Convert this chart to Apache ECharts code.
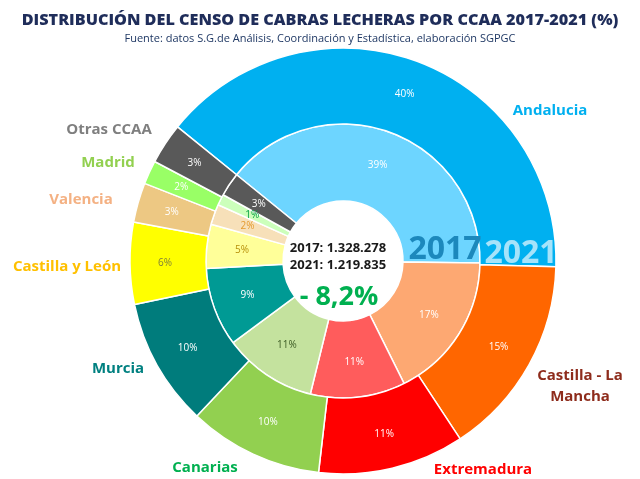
<!DOCTYPE html>
<html>
<head>
<meta charset="utf-8">
<script src="https://cdn.jsdelivr.net/npm/echarts@6/dist/echarts.min.js"></script>
<style>
html,body{margin:0;padding:0;background:#fff;}
#main{width:640px;height:479px;}
</style>
</head>
<body>
<div id="main"></div>
<script>
// ---- data ----
const categories = ['Andalucia','Castilla - La Mancha','Extremadura','Canarias','Murcia','Castilla y León','Valencia','Madrid','Otras CCAA'];
const values2017 = [39.4, 17.4, 11.2, 11.0, 9.3, 5.2, 2.4, 1.3, 2.8];
const values2021 = [39.6, 15.3, 11.1, 10.2, 9.7, 6.2, 3.0, 1.8, 3.1];
const total2017 = '1.328.278';
const total2021 = '1.219.835';
const change = '- 8,2%';

// ---- styles ----
const colors2021 = ['#00B0F0','#FF6600','#FF0000','#92D050','#007C7C','#FFFF00','#EDC883','#99FF66','#595959'];
const colors2017 = ['#6DD5FF','#FDA872','#FF5C5C','#C4E29E','#009A94','#FFFF99','#F7E0B9','#CCFFBB','#595959'];
const lbl2021 = ['#fff','#fff','#fff','#fff','#fff','#7F7F3A','#fff','#fff','#fff'];
const lbl2017 = ['#fff','#fff','#fff','#3B5A24','#fff','#B8900A','#E59A2E','#00A040','#fff'];
const nameColors = ['#00B0F0','#8E2C1C','#FF0000','#00B050','#008080','#FFC000','#F4B183','#92D050','#7F7F7F'];
const namePos = [[550,111],[580,386],[483,470],[205,468],[118,369],[67,267],[81,200],[108,163],[109,130]];
const FONT = '"Open Sans", sans-serif';
const CX = 343, CY = 261;

function ringData(vals, cols, lcols) {
  return vals.map((v, i) => ({
    name: categories[i], value: v,
    itemStyle: { color: cols[i] },
    label: { color: lcols[i] }
  }));
}

const chart = echarts.init(document.getElementById('main'), null, {renderer: 'canvas'});
const graphics = [];
categories.forEach((c, i) => {
  graphics.push({
    type: 'text', x: namePos[i][0], y: namePos[i][1],
    style: {
      text: c === 'Castilla - La Mancha' ? 'Castilla - La\nMancha' : c,
      fill: nameColors[i], font: 'bold 15px ' + FONT,
      align: 'center', verticalAlign: 'middle', lineHeight: 21
    }
  });
});
graphics.push(
  {type:'text', x: 338, y: 248, style:{text:'2017: ' + total2017, fill:'#1a1a1a', font:'bold 13px ' + FONT, align:'center', verticalAlign:'middle'}},
  {type:'text', x: 338, y: 265, style:{text:'2021: ' + total2021, fill:'#1a1a1a', font:'bold 13px ' + FONT, align:'center', verticalAlign:'middle'}},
  {type:'text', x: 339, y: 297, style:{text: change, fill:'#00B050', font:'bold 27px ' + FONT, align:'center', verticalAlign:'middle'}},
  {type:'text', x: 445, y: 250, z: 100, style:{text:'2017', fill:'#1C88BC', font:'bold 32px ' + FONT, align:'center', verticalAlign:'middle'}},
  {type:'text', x: 521, y: 254, z: 100, style:{text:'2021', fill:'#A6E3FA', font:'bold 32px ' + FONT, align:'center', verticalAlign:'middle'}}
);

const labelBase = { show: true, position: 'inside', fontSize: 10, fontFamily: FONT,
  formatter: p => Math.round(p.value) + '%' };

chart.setOption({
  animation: false,
  backgroundColor: '#fff',
  title: {
    text: 'DISTRIBUCIÓN DEL CENSO DE CABRAS LECHERAS POR CCAA 2017-2021 (%)',
    subtext: 'Fuente: datos S.G.de Análisis, Coordinación y Estadística, elaboración SGPGC',
    left: 'center', top: 7, itemGap: 5,
    textStyle: { fontFamily: FONT, fontWeight: 800, fontSize: 16.2, color: '#1F2D5A' },
    subtextStyle: { fontFamily: FONT, fontSize: 11, color: '#1F3864' }
  },
  series: [
    {
      type: 'pie', name: '2017', center: [CX, CY], radius: [60, 137],
      startAngle: 141, clockwise: true, avoidLabelOverlap: false,
      itemStyle: { borderColor: '#fff', borderWidth: 1.5 },
      label: labelBase, labelLine: { show: false },
      data: ringData(values2017, colors2017, lbl2017)
    },
    {
      type: 'pie', name: '2021', center: [CX, CY], radius: [137, 213],
      startAngle: 141, clockwise: true, avoidLabelOverlap: false,
      itemStyle: { borderColor: '#fff', borderWidth: 1.5 },
      label: labelBase, labelLine: { show: false },
      data: ringData(values2021, colors2021, lbl2021)
    }
  ],
  graphic: graphics
});
</script>
</body>
</html>
